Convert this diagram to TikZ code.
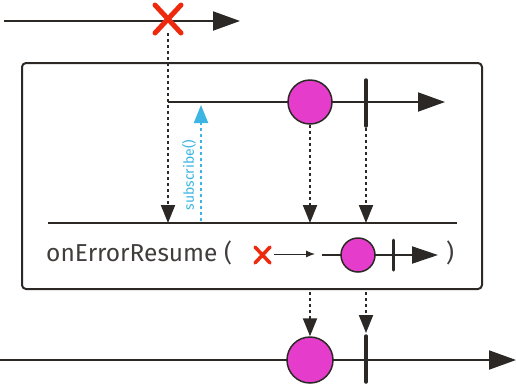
\documentclass[tikz,border=0pt]{standalone}
\usepackage{fontspec}
\setmainfont{Fira Sans}
\usetikzlibrary{arrows.meta}
\definecolor{errred}{HTML}{EE2A0E}
\definecolor{marble}{HTML}{E63CCC}
\definecolor{subblue}{HTML}{3DB5E2}
\definecolor{ink}{HTML}{2B2826}
\tikzset{
  timeline/.style={ink,line width=2pt,-{Triangle[length=27pt,width=19pt]}},
  ball/.style={circle,draw=ink,fill=marble,line width=1.5pt,minimum size=#1,inner sep=0pt},
  ball/.default=44pt,
  drop/.style={line width=2pt,dash pattern=on 3pt off 3pt,-{Triangle[length=18pt,width=14pt]}},
  cross/.style={errred,line width=#1,line cap=round},
  cross/.default=5pt,
  endmark/.style={ink,line width=3.5pt,line cap=round}
}
\begin{document}
\begin{tikzpicture}[x=1pt,y=-1pt,line join=round]
  \useasboundingbox (0,0) rectangle (516,384);
  % source
  \coordinate (src0) at (4,21);
  \coordinate (src1) at (240,21);
  \coordinate (err) at (168,19);
  \draw[timeline] (src0) -- (src1);
  \draw[cross] (155,5) -- (181,33) (155,33) -- (181,5);
  % operator box
  \draw[ink,line width=2pt,rounded corners=4pt] (22,63) rectangle (482,289);
  \coordinate (res0) at (168,102);
  \coordinate (res1) at (445,102);
  \draw[timeline] (res0) -- (res1);
  \node[ball] (rb) at (310,102) {};
  \coordinate (rt) at (366,102);
  \draw[endmark] (366,80) -- (366,126);
  \coordinate (op0) at (48,223);
  \coordinate (op1) at (457,223);
  \draw[ink,line width=2pt] (op0) -- (op1);
  \draw[drop,ink] (168,33) -- (168,223);
  \draw[drop,subblue] (201,221) -- (201,105);
  \node[subblue,rotate=90,font=\fontsize{14}{16}\selectfont] (sub) at (189,175) {subscribe()};
  \draw[drop,ink] (rb.south) -- (310,223);
  \draw[drop,ink] (366,128) -- (366,223);
  % label
  \node[anchor=west,text=ink!90,font=\fontsize{24.5}{28}\selectfont,inner sep=0pt] (lbl) at (46,253) {onErrorResume (};
  \draw[cross=3.5pt] (255,247) -- (270,263) (255,263) -- (270,247);
  \coordinate (ea) at (274,254);
  \coordinate (eb) at (315,254);
  \draw[ink,line width=1pt,-{Latex[length=9pt,width=7pt]}] (ea) -- (eb);
  \coordinate (fb0) at (322,255);
  \coordinate (fb1) at (438,255);
  \draw[ink,line width=2pt,-{Triangle[length=26pt,width=17pt]}] (fb0) -- (fb1);
  \node[ball=34pt] (fb) at (358,255) {};
  \draw[endmark,line width=3pt] (393,240) -- (393,270);
  \node[text=ink!90,font=\fontsize{24.5}{28}\selectfont,inner sep=0pt] (rp) at (450,253) {)};
  % result
  \coordinate (out0) at (0,360);
  \coordinate (out1) at (516,360);
  \draw[timeline] (out0) -- (out1);
  \node[ball=46pt] (ob) at (310,360) {};
  \draw[endmark] (366,336) -- (366,382);
  \draw[drop,ink] (310,292) -- (ob.north);
  \draw[drop,ink] (366,292) -- (366,333);
\end{tikzpicture}
\end{document}
